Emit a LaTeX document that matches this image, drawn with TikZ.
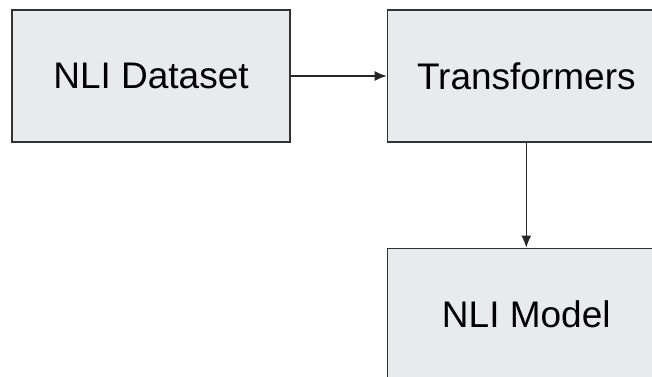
\documentclass[tikz,border=0pt]{standalone}
\usepackage{fontspec}
\setmainfont{Liberation Sans}
\usetikzlibrary{positioning,arrows.meta}

\definecolor{boxgray}{HTML}{E8EAEB}
\definecolor{edgegray}{HTML}{333333}
\def\BoxW{278pt}
\def\BoxH{132pt}

\begin{document}
\begin{tikzpicture}[x=1pt,y=-1pt,
  stage/.style={draw=edgegray,fill=boxgray,line width=1.3pt,
    minimum width=\BoxW,minimum height=\BoxH,inner sep=0pt,
    font=\fontsize{37}{44}\selectfont},
  flow/.style={-{Latex[length=12pt,width=10pt]},line width=1.3pt,draw=black!85}]
  % --- Marco ---
  \useasboundingbox (0,0) rectangle (652,376);
  \clip (0,0) rectangle (652,376);

  % --- Cajas ---
  \node[stage] (dataset) at (151,76) {NLI Dataset};
  \node[stage,right=96pt of dataset] (transformers) {Transformers};
  \node[stage,below=105pt of transformers] (model) {NLI Model};

  % --- Flechas ---
  \draw[flow] (dataset) -- (transformers);
  \draw[flow] (transformers) -- (model);
\end{tikzpicture}
\end{document}
